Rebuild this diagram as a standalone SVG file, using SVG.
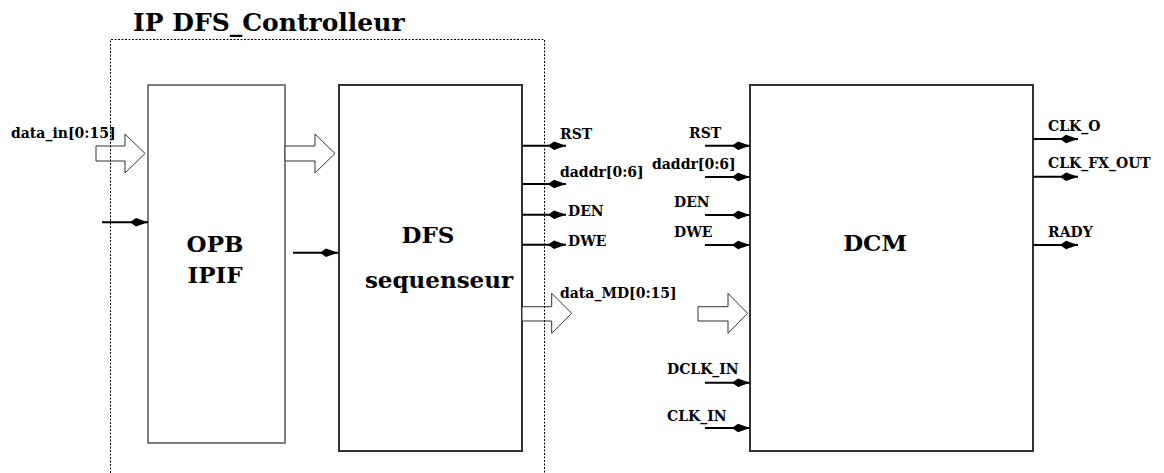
<svg xmlns="http://www.w3.org/2000/svg" width="1164" height="473" viewBox="0 0 1164 473">
<defs>
<style>
text{font-family:"DejaVu Serif","Liberation Serif",serif;font-weight:bold;fill:#000}
.sm{font-size:14px}
.big{font-size:23px;text-anchor:middle}
.title{font-size:25px}
.box{fill:#fff;stroke:#333;stroke-width:2}
.box2{fill:#fff;stroke:#555;stroke-width:1.5}
.wire{stroke:#000;stroke-width:2;fill:none;marker-end:url(#ah)}
.bus{fill:#fff;stroke:#333;stroke-width:1}
.cont{fill:none;stroke:#000;stroke-width:1;stroke-dasharray:2 1.5}
</style>
<marker id="ah" markerWidth="18" markerHeight="10" refX="18" refY="5" orient="auto" markerUnits="userSpaceOnUse" viewBox="0 0 18 10">
<path d="M0,5 L6,0.75 L18,5 L6,9.25 Z" fill="#000"/>
</marker>
</defs>
<rect width="1164" height="473" fill="#fff"/>
<g id="opb-ipif">
<rect class="box2" x="148" y="85" width="137" height="358"/>
<text class="big" x="215" y="252">OPB</text>
<text class="big" x="215" y="283">IPIF</text>
</g>
<g id="dfs-sequenseur">
<rect class="box" x="339" y="85" width="183" height="366"/>
<text class="big" x="428" y="243">DFS</text>
<text class="big" x="439" y="288">sequenseur</text>
</g>
<g id="dcm">
<rect class="box" x="750" y="85" width="283" height="366"/>
<text class="big" x="875" y="251">DCM</text>
</g>
<g id="connectors">
<polygon class="bus" points="96,146 125,146 125,134 145,153.5 125,173 125,161 96,161"/>
<polygon class="bus" points="285,146 315,146 315,134 335,153.5 315,173 315,161 285,161"/>
<polygon class="bus" points="522,306.7 551.7,306.7 551.7,293.3 571.7,313.3 551.7,333.3 551.7,321 522,321"/>
<polygon class="bus" points="698,306.7 728,306.7 728,293.3 747.5,313.3 728,333.3 728,321 698,321"/>
<line class="wire" x1="102" y1="222.3" x2="148" y2="222.3"/>
<line class="wire" x1="293" y1="252.7" x2="338" y2="252.7"/>
<line class="wire" x1="522" y1="145.7" x2="566" y2="145.7"/>
<line class="wire" x1="522" y1="184" x2="566" y2="184"/>
<line class="wire" x1="522" y1="214.7" x2="566" y2="214.7"/>
<line class="wire" x1="522" y1="244.7" x2="566" y2="244.7"/>
<line class="wire" x1="705" y1="145.7" x2="750" y2="145.7"/>
<line class="wire" x1="705" y1="177" x2="750" y2="177"/>
<line class="wire" x1="705" y1="215" x2="750" y2="215"/>
<line class="wire" x1="705" y1="245" x2="750" y2="245"/>
<line class="wire" x1="705" y1="382.7" x2="750" y2="382.7"/>
<line class="wire" x1="705" y1="428" x2="750" y2="428"/>
<line class="wire" x1="1033" y1="139" x2="1078" y2="139"/>
<line class="wire" x1="1033" y1="176.7" x2="1078" y2="176.7"/>
<line class="wire" x1="1033" y1="245" x2="1078" y2="245"/>
</g>
<g id="ip-dfs-controlleur">
<path class="cont" d="M110.5,473 V39.5 H544.5 V473"/>
<text class="title" x="133" y="31">IP DFS_Controlleur</text>
</g>
<g id="labels">
<text class="sm" x="11" y="138">data_in[0:15]</text>
<text class="sm" x="560" y="139">RST</text>
<text class="sm" x="560" y="177">daddr[0:6]</text>
<text class="sm" x="568" y="216">DEN</text>
<text class="sm" x="568" y="245.5">DWE</text>
<text class="sm" x="560" y="298">data_MD[0:15]</text>
<text class="sm" x="689" y="138.3">RST</text>
<text class="sm" x="652" y="169">daddr[0:6]</text>
<text class="sm" x="674" y="206.7">DEN</text>
<text class="sm" x="674" y="237.3">DWE</text>
<text class="sm" x="667" y="374.3">DCLK_IN</text>
<text class="sm" x="667" y="420.7">CLK_IN</text>
<text class="sm" x="1048" y="131">CLK_O</text>
<text class="sm" x="1048" y="168">CLK_FX_OUT</text>
<text class="sm" x="1048" y="237">RADY</text>
</g>
</svg>
